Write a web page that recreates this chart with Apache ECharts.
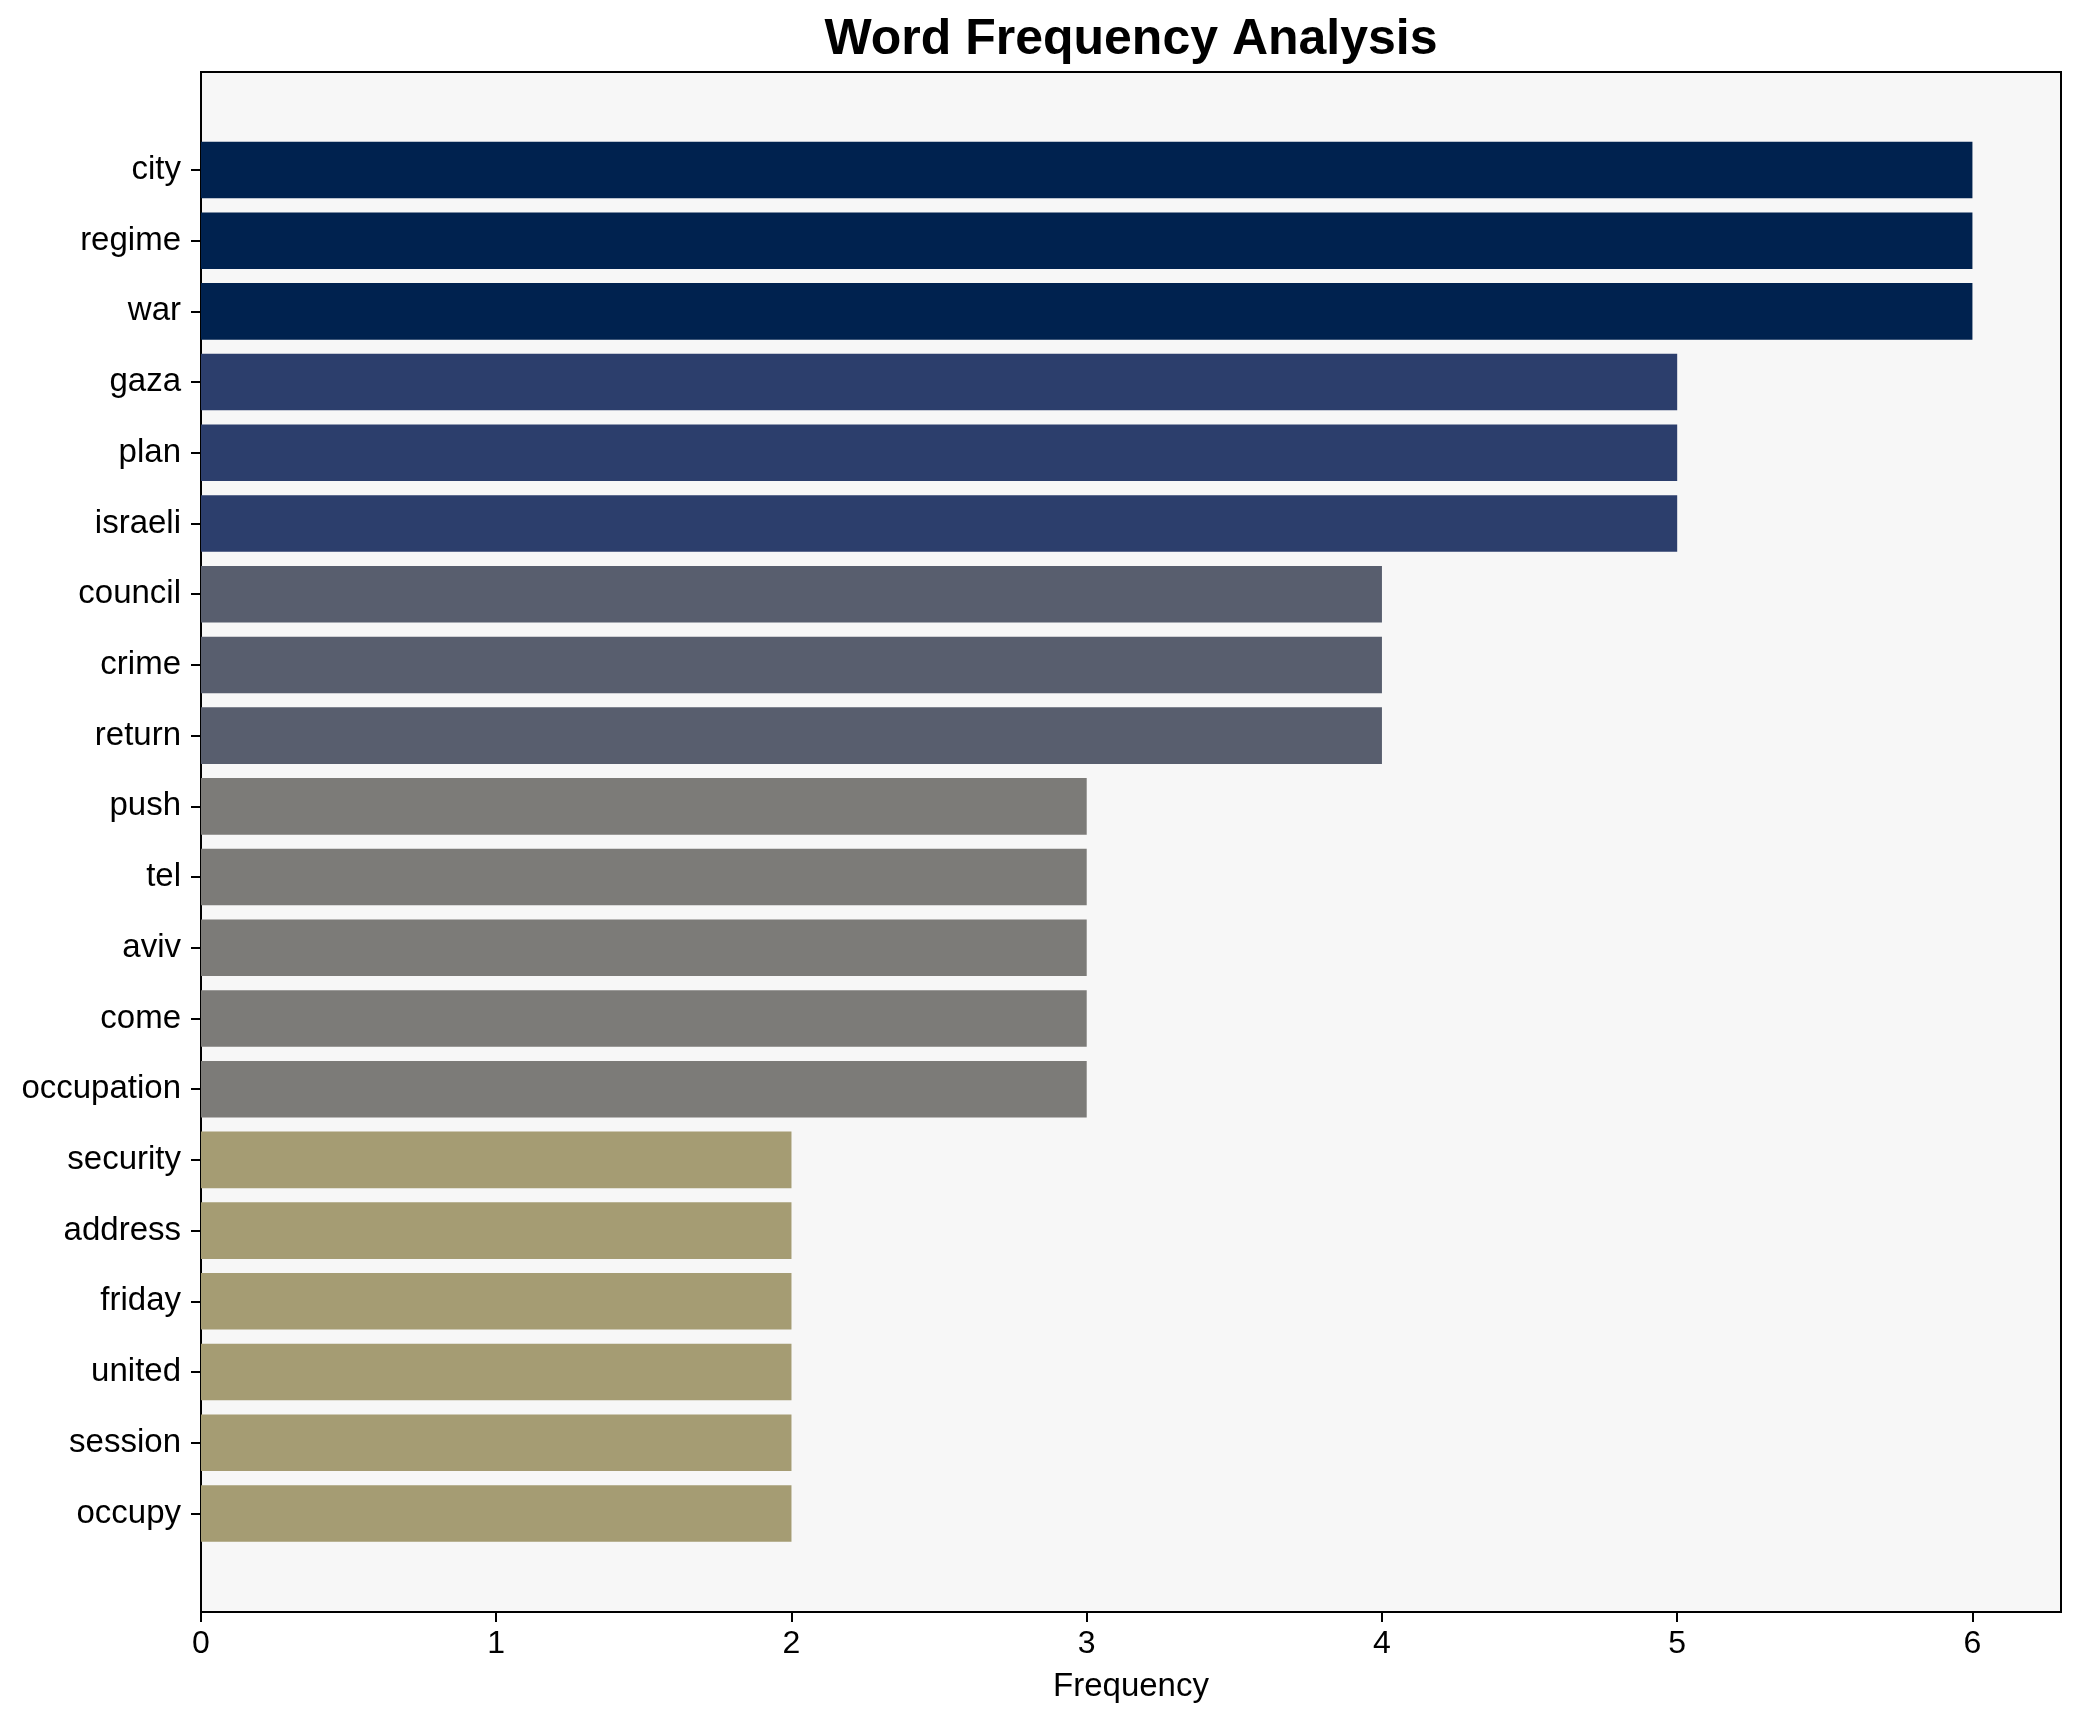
<!DOCTYPE html>
<html>
<head>
<meta charset="utf-8">
<script src="https://cdn.jsdelivr.net/npm/echarts@6/dist/echarts.min.js"></script>
<style>
html,body{margin:0;padding:0;background:#fff;}
#chart{width:2080px;height:1722px;}
</style>
</head>
<body>
<div id="chart"></div>
<script>
const words = ['city','regime','war','gaza','plan','israeli','council','crime','return','push','tel','aviv','come','occupation','security','address','friday','united','session','occupy'];
const freqs = [6,6,6,5,5,5,4,4,4,3,3,3,3,3,2,2,2,2,2,2];
const xTicks = [0,1,2,3,4,5,6];
const colorByFreq = {6:'#00224f',5:'#2c3e6c',4:'#585e6e',3:'#7c7b78',2:'#a59c73'};

const FONT = "'Liberation Sans', Arial, sans-serif";
const chart = echarts.init(document.getElementById('chart'), null, {renderer:'canvas'});
chart.setOption({
  animation:false,
  backgroundColor:'#ffffff',
  graphic:[{
    type:'text', x:1131, y:40,
    style:{text:'Word Frequency Analysis',fontFamily:FONT,fontSize:50,fontWeight:'bold',fill:'#000',
           textAlign:'center',textVerticalAlign:'middle'}
  }],
  grid:[
    {left:201,right:19,top:72,bottom:110,show:true,backgroundColor:'#f7f7f7',borderColor:'#000',borderWidth:2},
    {left:201,right:19,top:134.6,bottom:173.2}
  ],
  xAxis:[
    {gridIndex:0,type:'value',min:0,max:6.3,
     name:'Frequency',nameLocation:'middle',nameGap:58,
     nameTextStyle:{fontFamily:FONT,fontSize:33,color:'#000'},
     axisLine:{show:true,lineStyle:{color:'#000',width:2}},
     axisTick:{show:true,length:10,inside:false,customValues:xTicks,lineStyle:{color:'#000',width:2}},
     axisLabel:{customValues:xTicks,fontFamily:FONT,fontSize:32,color:'#000',margin:16},
     splitLine:{show:false}},
    {gridIndex:1,type:'value',min:0,max:6.3,show:false,splitLine:{show:false}}
  ],
  yAxis:[
    {gridIndex:0,type:'value',min:0,max:1,show:false,splitLine:{show:false}},
    {gridIndex:1,type:'category',inverse:true,data:words,
     axisLine:{show:false},
     axisTick:{show:true,alignWithLabel:true,length:10,lineStyle:{color:'#000',width:2}},
     axisLabel:{fontFamily:FONT,fontSize:33,color:'#000',margin:20,padding:[5,0,0,0]},
     splitLine:{show:false}}
  ],
  series:[{
    type:'bar',xAxisIndex:1,yAxisIndex:1,
    barWidth:'80%',
    data:freqs.map(v=>({value:v,itemStyle:{color:colorByFreq[v]}})),
    itemStyle:{borderWidth:0}
  }]
});
</script>
</body>
</html>
